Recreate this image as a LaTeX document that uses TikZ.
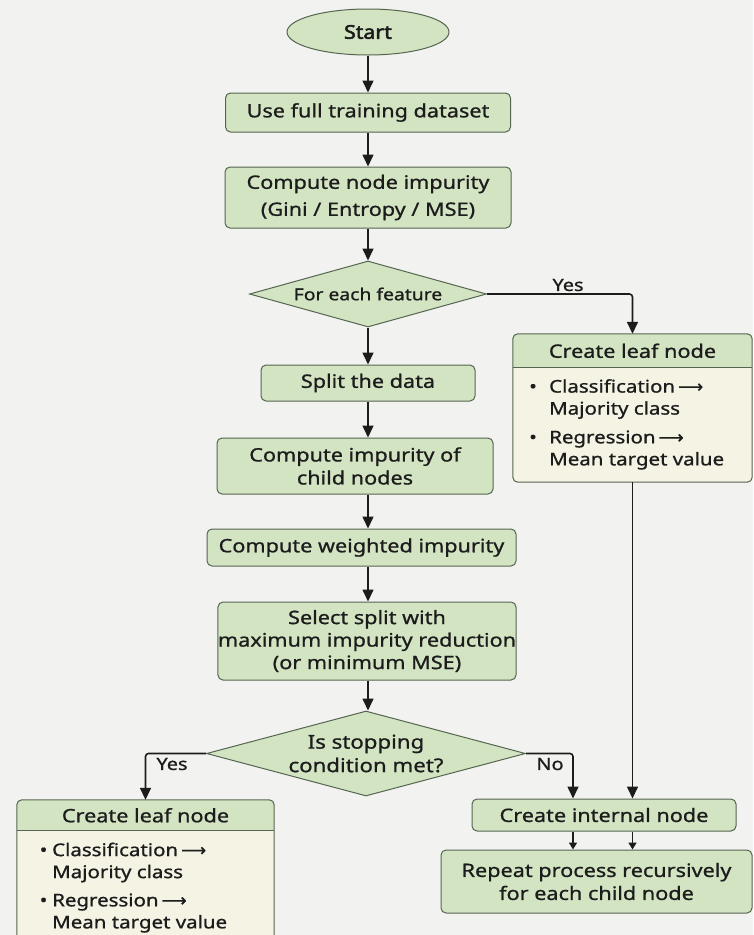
\documentclass[tikz,border=0pt]{standalone}
\usepackage{fontspec}
\setmainfont{Noto Sans}[FakeStretch=1.17, FakeBold=0.9]
\newfontfamily\startfont{Noto Sans}[FakeStretch=1.12, FakeBold=2.6]
\newfontfamily\arrowfont{DejaVu Sans}[FakeBold=0.6]
\usetikzlibrary{shapes.geometric,arrows.meta,calc}

\definecolor{bg}{HTML}{F2F2F1}
\definecolor{boxfill}{HTML}{D3E4C3}
\definecolor{boxline}{HTML}{55654F}
\definecolor{bodyfill}{HTML}{F4F3E4}
\definecolor{ink}{HTML}{1C1C1C}

% long arrow after a bullet keyword
\newcommand{\leadsarrow}{\,{\arrowfont ⟶}}

\begin{document}
\begin{tikzpicture}[x=1pt,y=-1pt,
  txt/.style={text=ink, font=\fontsize{18.5}{23}\selectfont},
  box/.style={txt, draw=boxline, line width=1pt, fill=boxfill, rounded corners=5pt, align=center, inner sep=0pt},
  startbox/.style={txt, ellipse, draw=boxline, line width=1pt, fill=boxfill, inner sep=0pt, font=\fontsize{19}{23}\startfont},
  decision/.style={txt, diamond, draw=boxline, line width=1pt, fill=boxfill, align=center, inner sep=0pt},
  leafbody/.style={fill=bodyfill, rounded corners=5pt, inner sep=0pt},
  flow/.style={draw=ink, line width=1.6pt, -{Triangle[length=12pt,width=11pt]}},
  shortflow/.style={draw=ink, line width=1.6pt, -{Triangle[length=7pt,width=8pt]}},
  lbl/.style={txt, font=\fontsize{17}{20}\selectfont, inner sep=0pt},
  item/.style={txt, font=\fontsize{17.5}{22}\selectfont, align=left, inner sep=0pt, anchor=west},
]
\useasboundingbox (0,0) rectangle (753,935);
\clip (0,0) rectangle (753,935);
\fill[bg] (0,0) rectangle (753,935);

% main column
\node[startbox, minimum width=162, minimum height=46] (start) at (368,32) {Start};
\node[box, minimum width=285, minimum height=39] (use) at (368,112.5) {Use full training dataset};
\node[box, minimum width=286, minimum height=61, font=\fontsize{18.5}{27}\selectfont] (imp) at (368,197.5) {Compute node impurity\\(Gini / Entropy / MSE)};
\node[decision, minimum width=237, minimum height=66, aspect=3.6, font=\fontsize{16.5}{20}\selectfont] (feat) at (368,294) {For each feature};
\node[box, minimum width=214, minimum height=36] (split) at (368,383) {Split the data};
\node[box, minimum width=276, minimum height=56] (child) at (355,466) {Compute impurity of\\child nodes};
\node[box, minimum width=309, minimum height=37] (wimp) at (361.5,547.5) {Compute weighted impurity};
\node[box, minimum width=298, minimum height=78, font=\fontsize{18.5}{22.5}\selectfont] (select) at (367,641) {Select split with\\maximum impurity reduction\\(or minimum MSE)};
\node[decision, minimum width=319, minimum height=85, aspect=3.75, font=\fontsize{19}{23.5}\selectfont] (stop) at (366,753.5) {Is stopping\\condition met?};
\node[box, minimum width=264, minimum height=32] (internal) at (604,815) {Create internal node};
\node[box, minimum width=311, minimum height=63] (repeat) at (596.5,881.5) {Repeat process recursively\\for each child node};

% leaf box on the right
\node[leafbody, minimum width=239, minimum height=148] (leafR) at (632.5,408) {};
\begin{scope}
  \clip[rounded corners=5pt] (leafR.north west) rectangle (leafR.south east);
  \fill[boxfill] (leafR.north west) rectangle ([yshift=-34pt]leafR.north east);
\end{scope}
\draw[boxline, line width=1pt] ([yshift=-34pt]leafR.north west) -- ([yshift=-34pt]leafR.north east);
\draw[boxline, line width=1pt, rounded corners=5pt] (leafR.north west) rectangle (leafR.south east);
\node[txt] (leafRh) at ([yshift=-17pt]leafR.north) {Create leaf node};
\node[item] (leafRa) at (529,399) {\makebox[20pt][l]{•}Classification\leadsarrow\\\hspace*{20pt}Majority class};
\node[item] (leafRb) at (529,450) {\makebox[20pt][l]{•}Regression\leadsarrow\\\hspace*{20pt}Mean target value};

% leaf box on the left
\node[leafbody, minimum width=257, minimum height=150] (leafL) at (145.5,875) {};
\begin{scope}
  \clip[rounded corners=5pt] (leafL.north west) rectangle (leafL.south east);
  \fill[boxfill] (leafL.north west) rectangle ([yshift=-31pt]leafL.north east);
\end{scope}
\draw[boxline, line width=1pt] ([yshift=-31pt]leafL.north west) -- ([yshift=-31pt]leafL.north east);
\draw[boxline, line width=1pt, rounded corners=5pt] (leafL.north west) rectangle (leafL.south east);
\node[txt] (leafLh) at ([yshift=-15.5pt]leafL.north) {Create leaf node};
\node[item] (leafLa) at (39.5,862.5) {\makebox[12.5pt][l]{•}Classification\leadsarrow\\\hspace*{12.5pt}Majority class};
\node[item] (leafLb) at (39.5,913) {\makebox[12.5pt][l]{•}Regression\leadsarrow\\\hspace*{12.5pt}Mean target value};

% connectors
\draw[flow] (start.south) -- (start.south |- use.north);
\draw[flow] (use.south) -- (use.south |- imp.north);
\draw[flow] (imp.south) -- (imp.south |- feat.north);
\draw[flow] (feat.south) -- (feat.south |- split.north);
\draw[flow] (split.south) -- (split.south |- child.north);
\draw[flow] (split.south |- child.south) -- (split.south |- wimp.north);
\draw[flow] (split.south |- wimp.south) -- (split.south |- select.north);
\draw[flow] (split.south |- select.south) -- (split.south |- stop.north);
\draw[flow, rounded corners=3pt] (feat.east) -| (leafR.north);
\draw[flow, rounded corners=3pt] (stop.west) -| (leafL.north);
\draw[flow, rounded corners=3pt] (stop.east) -| ([xshift=-31pt]internal.north);
\draw[flow] (leafR.south) -- (leafR.south |- internal.north);
\draw[shortflow] ([xshift=-31pt]internal.south) -- ([xshift=-31pt]internal.south |- repeat.north);
\draw[shortflow] (leafR.south |- internal.south) -- (leafR.south |- repeat.north);

% branch labels
\node[lbl] (yesA) at (568,285) {Yes};
\node[lbl] (yesB) at (172,764) {Yes};
\node[lbl] (noB) at (550,764) {No};
\end{tikzpicture}
\end{document}
